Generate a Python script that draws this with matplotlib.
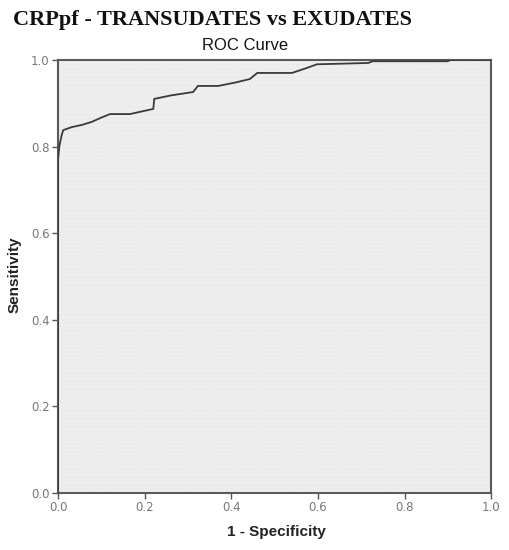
import matplotlib
matplotlib.use("Agg")
import matplotlib.pyplot as plt
from matplotlib.patches import Rectangle

# ROC curve points (1 - specificity, sensitivity)
fpr = [0.0, 0.0, 0.003, 0.008, 0.012, 0.032, 0.055, 0.078, 0.10, 0.12, 0.166, 0.22, 0.222,
       0.26, 0.312, 0.323, 0.37, 0.41, 0.443, 0.46, 0.50, 0.54, 0.57, 0.598, 0.716, 0.727,
       0.90, 0.905, 1.0]
tpr = [0.0, 0.77, 0.80, 0.825, 0.838, 0.845, 0.85, 0.857, 0.867, 0.875, 0.875, 0.887, 0.91,
       0.918, 0.926, 0.94, 0.94, 0.948, 0.956, 0.97, 0.97, 0.97, 0.98, 0.99, 0.993, 0.997,
       0.997, 1.0, 1.0]

ticks = [0.0, 0.2, 0.4, 0.6, 0.8, 1.0]
tick_labels = ["0.0", "0.2", "0.4", "0.6", "0.8", "1.0"]

plt.rcParams["hatch.linewidth"] = 0.4
fig = plt.figure(figsize=(5.09, 5.50), dpi=100)
ax = fig.add_axes([0.114, 0.1036, 0.851, 0.7874])
ax.set_xlim(0, 1)
ax.set_ylim(0, 1)
ax.set_facecolor("#ececec")
bg = Rectangle((0, 0), 1, 1, transform=ax.transAxes, facecolor="#ececec",
               edgecolor="#f7f7f7", hatch="....", linewidth=0, zorder=0)
ax.add_patch(bg)

ax.plot(fpr, tpr, color="#3a3a3a", linewidth=1.3, zorder=3)

for s in ax.spines.values():
    s.set_color("#5a5a5a")
    s.set_linewidth(1.5)

ax.set_xticks(ticks)
ax.set_xticklabels(tick_labels)
ax.set_yticks(ticks)
ax.set_yticklabels(tick_labels)
ax.tick_params(axis="both", colors="#555555", labelcolor="#777777", labelsize=8.5,
               length=4, width=1, pad=2)

fig.text(276 / 509, 1 - 532 / 550, "1 - Specificity", ha="center", va="center",
         fontsize=11, fontweight="bold", color="#222222", family="Liberation Sans")
fig.text(15 / 509, 1 - 275 / 550, "Sensitivity", ha="center", va="center", rotation=90,
         fontsize=11, fontweight="bold", color="#222222", family="Liberation Sans")

fig.text(245 / 509, 1 - 46 / 550, "ROC Curve", ha="center", va="center", fontsize=12,
         color="#111111", family="Liberation Sans")
fig.text(13 / 509, 1 - 20 / 550, "CRPpf - TRANSUDATES vs EXUDATES", ha="left", va="center",
         fontsize=16, fontweight="bold", color="#111111", family="Liberation Serif")

fig.savefig("out.png", dpi=100, facecolor="white")
